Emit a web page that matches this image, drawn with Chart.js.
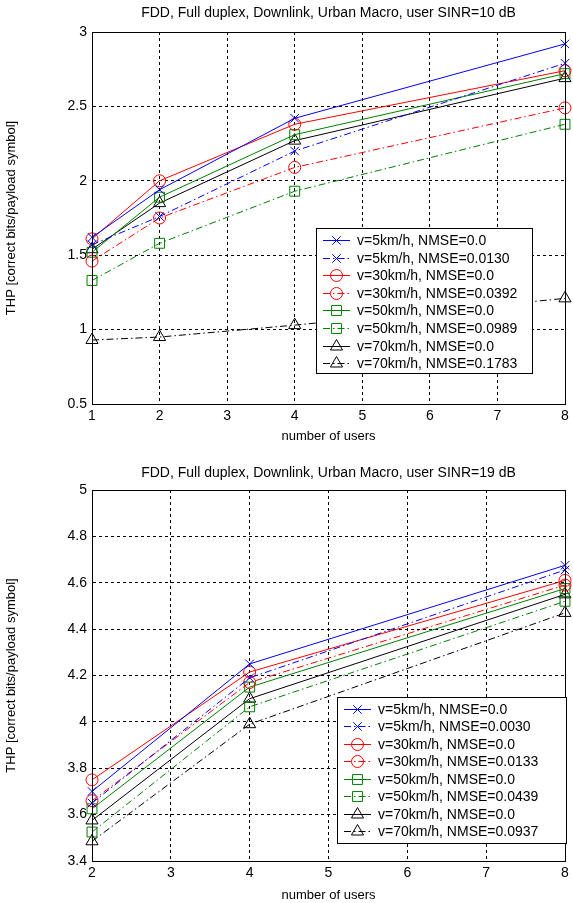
<!DOCTYPE html>
<html>
<head>
<meta charset="utf-8">
<script src="https://cdn.jsdelivr.net/npm/chart.js@4.4.0/dist/chart.umd.min.js"></script>
<style>
  html, body { margin: 0; padding: 0; background: #fff; }
  #wrap { position: relative; width: 573px; height: 903px; }
  #c1 { position: absolute; left: 0; top: 0; }
  #c2 { position: absolute; left: 0; top: 452px; }
</style>
</head>
<body>
<div id="wrap">
  <canvas id="c1" width="573" height="452"></canvas>
  <canvas id="c2" width="573" height="451"></canvas>
</div>
<script>
// ---- data: top panel (SINR = 10 dB) ----
const usersTop = [1, 2, 4, 8];
const xTicksTop = [1, 2, 3, 4, 5, 6, 7, 8];
const yTicksTop = [0.5, 1, 1.5, 2, 2.5, 3];
const yTickLabelsTop = ['0.5', '1', '1.5', '2', '2.5', '3'];
const namesTop = [
  'v=5km/h, NMSE=0.0', 'v=5km/h, NMSE=0.0130',
  'v=30km/h, NMSE=0.0', 'v=30km/h, NMSE=0.0392',
  'v=50km/h, NMSE=0.0', 'v=50km/h, NMSE=0.0989',
  'v=70km/h, NMSE=0.0', 'v=70km/h, NMSE=0.1783'
];
const top5 = [1.62, 1.94, 2.42, 2.92];
const top5e = [1.57, 1.76, 2.20, 2.79];
const top30 = [1.61, 2.00, 2.38, 2.74];
const top30e = [1.46, 1.75, 2.09, 2.49];
const top50 = [1.52, 1.89, 2.31, 2.72];
const top50e = [1.33, 1.58, 1.93, 2.38];
const top70 = [1.54, 1.85, 2.27, 2.69];
const top70e = [0.93, 0.95, 1.03, 1.21];

// ---- data: bottom panel (SINR = 19 dB) ----
const usersBottom = [2, 4, 8];
const xTicksBottom = [2, 3, 4, 5, 6, 7, 8];
const yTicksBottom = [3.4, 3.6, 3.8, 4, 4.2, 4.4, 4.6, 4.8, 5];
const yTickLabelsBottom = ['3.4', '3.6', '3.8', '4', '4.2', '4.4', '4.6', '4.8', '5'];
const namesBottom = [
  'v=5km/h, NMSE=0.0', 'v=5km/h, NMSE=0.0030',
  'v=30km/h, NMSE=0.0', 'v=30km/h, NMSE=0.0133',
  'v=50km/h, NMSE=0.0', 'v=50km/h, NMSE=0.0439',
  'v=70km/h, NMSE=0.0', 'v=70km/h, NMSE=0.0937'
];
const bot5 = [3.70, 4.25, 4.675];
const bot5e = [3.65, 4.19, 4.655];
const bot30 = [3.75, 4.215, 4.61];
const bot30e = [3.66, 4.17, 4.59];
const bot50 = [3.625, 4.15, 4.575];
const bot50e = [3.525, 4.065, 4.52];
const bot70 = [3.575, 4.10, 4.55];
const bot70e = [3.485, 3.99, 4.47];

// line styles, one per series (solid = perfect CSI, dash-dot = with NMSE)
const colors = ['#0000ff', '#0000ff', '#ff0000', '#ff0000', '#008000', '#008000', '#000000', '#000000'];
const markers = ['crossRot', 'crossRot', 'circle', 'circle', 'rect', 'rect', 'triangle', 'triangle'];
const markerSize = { crossRot: 6, circle: 6, rect: 7, triangle: 7 };
const dashDot = [7, 3, 1.5, 3];

const FONT = '"Liberation Sans", Arial, Helvetica, sans-serif';

// axes box (MATLAB style frame)
const frame = {
  id: 'frame',
  afterDraw(chart) {
    const a = chart.chartArea, ctx = chart.ctx;
    ctx.save();
    ctx.strokeStyle = '#000';
    ctx.lineWidth = 1;
    ctx.strokeRect(Math.round(a.left) + 0.5, Math.round(a.top) + 0.5,
      Math.round(a.right - a.left), Math.round(a.bottom - a.top));
    ctx.restore();
  }
};

// boxed legend inside the axes, line sample + marker + text
const boxLegend = {
  id: 'boxLegend',
  afterDraw(chart, args, o) {
    const ctx = chart.ctx;
    ctx.save();
    ctx.fillStyle = '#fff';
    ctx.fillRect(o.x, o.y, o.w, o.h);
    ctx.strokeStyle = '#000';
    ctx.lineWidth = 1;
    ctx.setLineDash([]);
    ctx.strokeRect(o.x + 0.5, o.y + 0.5, o.w, o.h);
    ctx.font = '14px ' + FONT;
    ctx.textBaseline = 'middle';
    chart.data.datasets.forEach(function (ds, i) {
      const yy = Math.round(o.y + o.first + i * o.row) + 0.5;
      ctx.strokeStyle = ds.borderColor;
      ctx.setLineDash(ds.borderDash || []);
      ctx.beginPath();
      ctx.moveTo(o.x + 7, yy);
      ctx.lineTo(o.x + 34, yy);
      ctx.stroke();
      ctx.setLineDash([]);
      ctx.fillStyle = 'rgba(0,0,0,0)';
      Chart.helpers.drawPoint(ctx, {
        pointStyle: ds.pointStyle, radius: ds.pointRadius, borderWidth: 1, rotation: 0
      }, o.x + 20.5, yy);
      ctx.fillStyle = '#000';
      ctx.fillText(ds.label, o.x + 41, yy + 1);
    });
    ctx.restore();
  }
};

function makeDatasets(xs, series, names) {
  return series.map(function (ys, i) {
    return {
      label: names[i],
      data: xs.map(function (x, j) { return { x: x, y: ys[j] }; }),
      borderColor: colors[i],
      backgroundColor: 'rgba(0,0,0,0)',
      borderWidth: 1,
      borderDash: i % 2 ? dashDot : [],
      pointStyle: markers[i],
      pointRadius: markerSize[markers[i]],
      pointBorderWidth: 1,
      pointBackgroundColor: 'rgba(0,0,0,0)',
      pointBorderColor: colors[i],
      tension: 0,
      clip: false
    };
  });
}

function makeChart(id, cfg) {
  return new Chart(document.getElementById(id), {
    type: 'line',
    data: { datasets: makeDatasets(cfg.xs, cfg.series, cfg.names) },
    options: {
      responsive: false,
      animation: false,
      events: [],
      layout: { padding: { left: 0, right: 6, top: 0, bottom: 0 } },
      plugins: {
        legend: { display: false },
        tooltip: { enabled: false },
        title: {
          display: true,
          text: cfg.title,
          fullSize: false,
          color: '#000',
          font: { family: FONT, size: 14, weight: 'normal' },
          padding: cfg.titlePad
        },
        boxLegend: cfg.legend
      },
      scales: {
        x: {
          type: 'linear',
          min: cfg.xTicks[0],
          max: cfg.xTicks[cfg.xTicks.length - 1],
          afterBuildTicks: function (s) { s.ticks = cfg.xTicks.map(function (v) { return { value: v }; }); },
          afterFit: function (s) { s.height = cfg.xAxisHeight; },
          ticks: {
            color: '#000', padding: 4, maxRotation: 0, autoSkip: false,
            font: { family: FONT, size: 14 },
            callback: function (v) { return String(v); }
          },
          grid: { color: '#000', lineWidth: 1, drawTicks: false },
          border: { display: true, color: '#000', width: 1, dash: [3, 3] },
          title: {
            display: true, text: 'number of users', color: '#000',
            font: { family: FONT, size: 13 }, padding: { top: 0, bottom: cfg.xTitlePad }
          }
        },
        y: {
          type: 'linear',
          min: cfg.yTicks[0],
          max: cfg.yTicks[cfg.yTicks.length - 1],
          afterBuildTicks: function (s) { s.ticks = cfg.yTicks.map(function (v) { return { value: v }; }); },
          afterFit: function (s) { s.width = 92; },
          ticks: {
            color: '#000', padding: 5, autoSkip: false,
            font: { family: FONT, size: 14 },
            callback: function (v, i) { return cfg.yLabels[i]; }
          },
          grid: { color: '#000', lineWidth: 1, drawTicks: false },
          border: { display: true, color: '#000', width: 1, dash: [3, 3] },
          title: {
            display: true, text: 'THP [correct bits/payload symbol]', color: '#000',
            font: { family: FONT, size: 13 }, padding: { top: 4, bottom: 0 }
          }
        }
      }
    },
    plugins: [frame, boxLegend]
  });
}

makeChart('c1', {
  xs: usersTop,
  series: [top5, top5e, top30, top30e, top50, top50e, top70, top70e],
  names: namesTop,
  xTicks: xTicksTop,
  yTicks: yTicksTop,
  yLabels: yTickLabelsTop,
  title: 'FDD, Full duplex, Downlink, Urban Macro, user SINR=10 dB',
  titlePad: { top: 5, bottom: 10.2 },
  xAxisHeight: 48,
  xTitlePad: 8,
  legend: { x: 316, y: 228, w: 216, h: 145, first: 12, row: 17.6 }
});

makeChart('c2', {
  xs: usersBottom,
  series: [bot5, bot5e, bot30, bot30e, bot50, bot50e, bot70, bot70e],
  names: namesBottom,
  xTicks: xTicksBottom,
  yTicks: yTicksBottom,
  yLabels: yTickLabelsBottom,
  title: 'FDD, Full duplex, Downlink, Urban Macro, user SINR=19 dB',
  titlePad: { top: 12.6, bottom: 8.6 },
  xAxisHeight: 42,
  xTitlePad: 0,
  legend: { x: 337, y: 245, w: 229, h: 146, first: 11.5, row: 17.5 }
});
</script>
</body>
</html>
